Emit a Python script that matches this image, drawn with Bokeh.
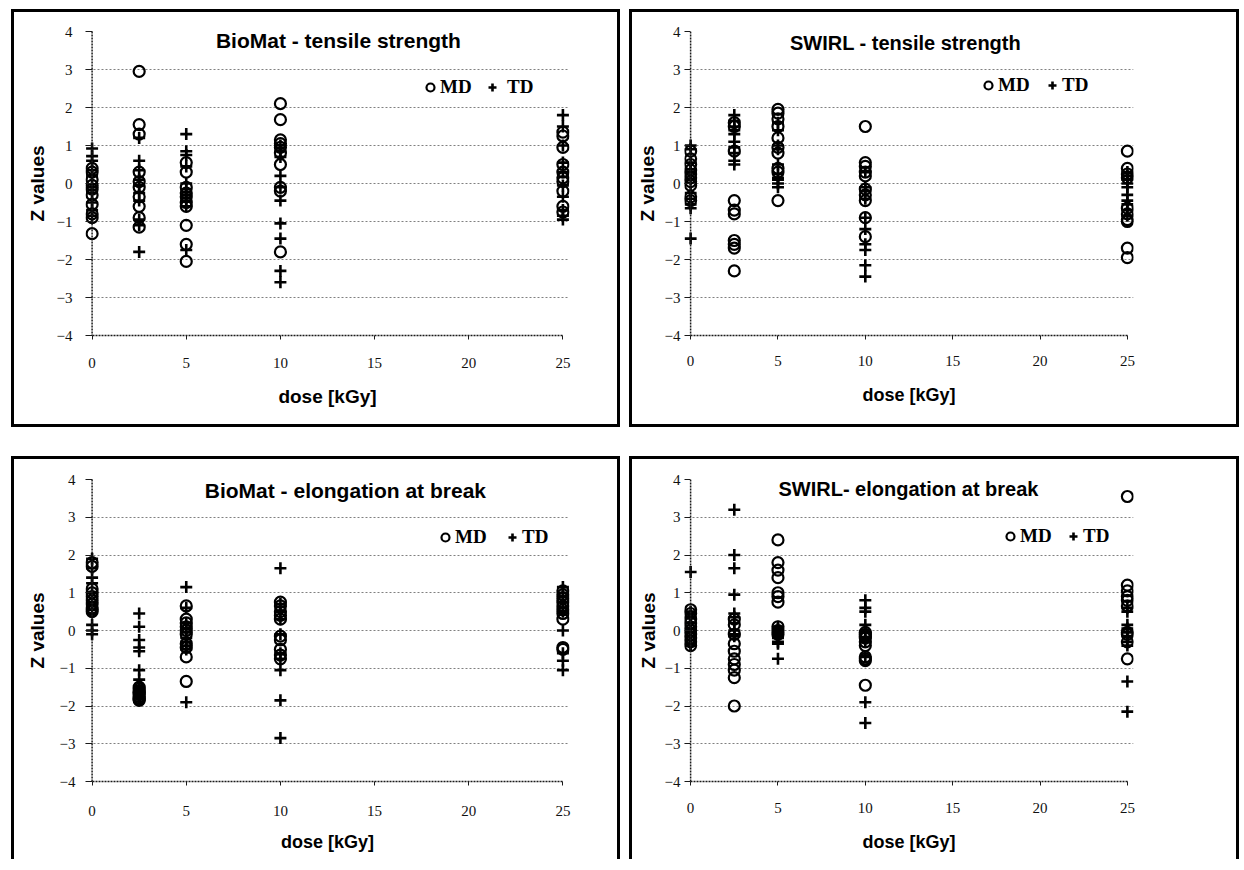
from bokeh.plotting import figure
from bokeh.models import Range1d, Label, Legend, LegendItem, FixedTicker, Span
from bokeh.layouts import column, row
from bokeh.embed import file_html
from bokeh.resources import INLINE

# ---------------- data ----------------
DOSES = [0, 2.5, 5, 10, 25]
X_TICKS = [0, 5, 10, 15, 20, 25]
Y_TICKS = [-4, -3, -2, -1, 0, 1, 2, 3, 4]

TITLES = ["BioMat - tensile strength", "SWIRL - tensile strength",
          "BioMat - elongation at break", "SWIRL- elongation at break"]

# Z values, one inner list per dose (0, 2.5, 5, 10, 25 kGy)
biomat_ts_md = [[0.4, 0.3, 0.1, -0.05, -0.15, -0.3, -0.55, -0.8, -0.9, -1.32],
                [2.95, 1.55, 1.3, 0.3, 0.05, -0.1, -0.35, -0.6, -0.9, -1.15],
                [0.55, 0.3, -0.1, -0.25, -0.35, -0.5, -0.6, -1.1, -1.6, -2.05],
                [2.1, 1.68, 1.15, 1.05, 0.95, 0.8, 0.5, -0.1, -0.2, -1.8],
                [1.35, 1.25, 0.95, 0.5, 0.3, 0.15, 0.05, -0.2, -0.6, -0.75]]
biomat_ts_td = [[0.92, 0.72, 0.6, 0.35, 0.2, -0.1, -0.25, -0.5, -0.7, -0.85],
                [1.2, 0.6, 0.35, 0.1, -0.05, -0.25, -0.45, -0.95, -1.1, -1.8],
                [1.3, 0.85, 0.75, 0.45, 0.0, -0.15, -0.3, -0.45, -0.6, -1.75],
                [1.0, 0.85, 0.7, 0.2, -0.1, -0.45, -1.05, -1.45, -2.3, -2.6],
                [1.8, 1.5, 1.0, 0.55, 0.3, -0.05, -0.35, -0.7, -0.85, -0.95]]

swirl_ts_md = [[0.85, 0.65, 0.5, 0.35, 0.25, 0.15, 0.05, -0.05, -0.35, -0.45],
               [1.6, 1.5, 0.85, -0.45, -0.7, -0.8, -1.5, -1.6, -1.7, -2.3],
               [1.95, 1.85, 1.7, 1.5, 1.2, 0.95, 0.8, 0.4, 0.3, -0.45],
               [1.5, 0.55, 0.45, 0.3, 0.2, -0.15, -0.3, -0.45, -0.9, -1.4],
               [0.85, 0.4, 0.25, 0.15, -0.65, -0.8, -0.95, -1.0, -1.7, -1.95]]
swirl_ts_td = [[1.0, 0.9, 0.55, 0.3, 0.1, -0.25, -0.4, -0.55, -0.65, -1.45],
               [1.8, 1.65, 1.5, 1.4, 1.3, 1.1, 0.95, 0.8, 0.6, 0.5],
               [1.6, 1.4, 1.0, 0.9, 0.5, 0.25, 0.15, 0.1, 0.0, -0.1],
               [0.3, -0.1, -0.2, -0.4, -0.9, -1.2, -1.6, -1.75, -2.15, -2.45],
               [0.3, 0.2, 0.1, 0.0, -0.1, -0.3, -0.45, -0.55, -0.7, -0.85]]

biomat_eb_md = [[1.8, 1.7, 1.1, 1.0, 0.9, 0.8, 0.7, 0.6, 0.55, 0.5],
                [-1.5, -1.55, -1.6, -1.65, -1.65, -1.7, -1.75, -1.8, -1.82, -1.85],
                [0.65, 0.3, 0.2, 0.1, 0.0, -0.1, -0.35, -0.45, -0.7, -1.35],
                [0.75, 0.65, 0.5, 0.4, 0.3, -0.15, -0.25, -0.5, -0.65, -0.75],
                [1.05, 0.95, 0.85, 0.75, 0.65, 0.55, 0.45, 0.3, -0.45, -0.5]]
biomat_eb_td = [[1.9, 1.65, 1.4, 1.25, 1.0, 0.75, 0.55, 0.15, 0.0, -0.1],
                [0.45, 0.1, -0.25, -0.45, -0.55, -1.05, -1.3, -1.5, -1.6, -1.75],
                [1.15, 0.6, 0.2, 0.05, -0.05, -0.2, -0.3, -0.4, -0.5, -1.9],
                [1.65, 0.7, 0.5, 0.3, -0.1, -0.6, -0.75, -1.05, -1.85, -2.85],
                [1.15, 1.0, 0.9, 0.75, 0.6, 0.5, 0.0, -0.6, -0.8, -1.05]]

swirl_eb_md = [[0.55, 0.45, 0.3, 0.2, 0.1, 0.0, -0.1, -0.2, -0.3, -0.4],
               [0.3, 0.15, -0.1, -0.35, -0.55, -0.75, -0.9, -1.05, -1.25, -2.0],
               [2.4, 1.8, 1.6, 1.4, 1.0, 0.9, 0.75, 0.1, 0.0, -0.1],
               [-0.05, -0.1, -0.15, -0.2, -0.3, -0.4, -0.7, -0.75, -0.8, -1.45],
               [3.55, 1.2, 1.05, 0.9, 0.8, 0.65, -0.05, -0.1, -0.3, -0.75]]
swirl_eb_td = [[1.55, 0.5, 0.35, 0.2, 0.05, -0.05, -0.15, -0.25, -0.35, -0.4],
               [3.2, 2.0, 1.65, 0.95, 0.45, 0.35, 0.2, 0.0, -0.1, -0.15],
               [0.1, 0.05, 0.0, -0.05, -0.1, -0.15, -0.2, -0.3, -0.35, -0.75],
               [0.8, 0.6, 0.5, 0.15, -0.05, -0.2, -0.3, -0.7, -1.9, -2.45],
               [0.6, 0.5, 0.15, 0.05, -0.05, -0.15, -0.3, -0.4, -1.35, -2.15]]

SERIES = [(biomat_ts_md, biomat_ts_td), (swirl_ts_md, swirl_ts_td),
          (biomat_eb_md, biomat_eb_td), (swirl_eb_md, swirl_eb_td)]

# ---------------- layout / style per panel ----------------
BW = 3  # panel border width
ROW_TB = [(19, 95), (20, 81)]        # min_border top/bottom per row
COL_LR = [(71, 54), (52, 109)]       # min_border left/right per column
LAYOUT = [
    dict(w=609, h=418, rc=(0, 0), title_xy=(13.08, 3.76), title_fs="21px",
         ylab_so=13, ylab_axso=6, xlab_so=18, xlab_axso=15, xlab_fs="19px",
         md_loc=(335, 237), td_loc=(397, 237), md_so=0, td_so=5, bottom_border=True),
    dict(w=610, h=418, rc=(0, 1), title_xy=(12.3, 3.71), title_fs="20px",
         ylab_so=4, ylab_axso=4, xlab_so=16, xlab_axso=16, xlab_fs="18px",
         md_loc=(294, 239), td_loc=(358, 239), md_so=0, td_so=0, bottom_border=True),
    dict(w=609, h=403, rc=(1, 0), title_xy=(13.45, 3.71), title_fs="21px",
         ylab_so=10, ylab_axso=9, xlab_so=20, xlab_axso=13, xlab_fs="18px",
         md_loc=(350, 233), td_loc=(417, 233), md_so=0, td_so=0, bottom_border=False),
    dict(w=610, h=403, rc=(1, 1), title_xy=(12.47, 3.76), title_fs="20px",
         ylab_so=4, ylab_axso=3, xlab_so=17, xlab_axso=16, xlab_fs="18px",
         md_loc=(316, 234), td_loc=(379, 234), md_so=0, td_so=0, bottom_border=False),
]
X_PAD = 0.35


def flatten(groups):
    xs, ys = [], []
    for d, vals in zip(DOSES, groups):
        xs += [d] * len(vals)
        ys += list(vals)
    return xs, ys


def make_panel(title, md, td, cfg):
    border = "%dpx solid #000" % BW
    styles = {"border-top": border, "border-left": border, "border-right": border}
    if cfg["bottom_border"]:
        styles["border-bottom"] = border
    r_i, c_i = cfg["rc"]
    top, bottom = ROW_TB[r_i]
    left, right = COL_LR[c_i]
    p = figure(width=cfg["w"], height=cfg["h"], output_backend="svg",
               toolbar_location=None,
               x_range=Range1d(-X_PAD, 25 + X_PAD), y_range=Range1d(-4, 4),
               min_border_left=left, min_border_right=right,
               min_border_top=top, min_border_bottom=bottom,
               background_fill_color="white", border_fill_color="white",
               outline_line_color=None, styles=styles)

    frame_w = cfg["w"] - left - right
    pad_px = int(round(X_PAD * frame_w / (25 + 2 * X_PAD)))

    # axes
    p.xaxis.ticker = FixedTicker(ticks=X_TICKS, minor_ticks=[])
    p.yaxis.ticker = FixedTicker(ticks=Y_TICKS, minor_ticks=[])
    p.xaxis.bounds = (0, 25)
    for ax in (p.xaxis[0], p.yaxis[0]):
        ax.axis_line_color = "#1a1a1a"
        ax.axis_line_width = 1.5
        ax.axis_line_dash = "2 1"
        ax.major_tick_line_color = "#1a1a1a"
        ax.minor_tick_line_color = None
        ax.major_label_text_font = "Liberation Serif"
        ax.major_label_text_font_size = "15px"
        ax.major_label_text_color = "#111"
        ax.axis_label_text_font = "Liberation Sans"
        ax.axis_label_text_font_style = "bold"
        ax.axis_label_text_color = "#000"
    p.xaxis.major_tick_in = 0
    p.xaxis.major_tick_out = 4
    # y axis drawn at x = 0 (a span); ticks reach from the frame edge to it
    p.yaxis.axis_line_color = None
    p.yaxis.major_tick_in = pad_px
    p.yaxis.major_tick_out = 0
    p.add_layout(Span(location=0, dimension="height", line_color="#1a1a1a",
                      line_width=1.5, line_dash="2 1"))

    p.xaxis.axis_label = "dose [kGy]"
    p.xaxis.axis_label_text_font_size = cfg["xlab_fs"]
    p.xaxis.major_label_standoff = cfg["xlab_so"]
    p.xaxis.axis_label_standoff = cfg["xlab_axso"]
    p.yaxis.axis_label = "Z values"
    p.yaxis.axis_label_text_font_size = "19px"
    p.yaxis.major_label_standoff = cfg["ylab_so"]
    p.yaxis.axis_label_standoff = cfg["ylab_axso"]

    p.xgrid.visible = False
    p.ygrid.grid_line_color = "#808080"
    p.ygrid.grid_line_dash = "2 2"
    p.ygrid.grid_line_width = 1

    mx, my = flatten(md)
    tx, ty = flatten(td)
    r_md = p.scatter(mx, my, marker="circle", size=11, fill_color=None,
                     line_color="black", line_width=2.2)
    r_td = p.scatter(tx, ty, marker="cross", size=12, line_color="black",
                     line_width=2.6)

    tx_, ty_ = cfg["title_xy"]
    p.add_layout(Label(x=tx_, y=ty_, text=title, text_align="center",
                       text_baseline="middle", text_font="Liberation Sans",
                       text_font_style="bold", text_font_size=cfg["title_fs"],
                       text_color="black"))

    for lab, rend, loc, so in (("MD", r_md, cfg["md_loc"], cfg["md_so"]),
                               ("TD", r_td, cfg["td_loc"], cfg["td_so"])):
        leg = Legend(items=[LegendItem(label=lab, renderers=[rend])],
                     location=loc, orientation="horizontal",
                     border_line_color=None, background_fill_alpha=0,
                     padding=0, margin=0, spacing=0,
                     glyph_width=20, glyph_height=20, label_height=20,
                     label_standoff=so, label_text_font="Liberation Serif",
                     label_text_font_style="bold", label_text_font_size="19px",
                     label_text_color="black")
        p.add_layout(leg)
    return p


panels = [make_panel(t, s[0], s[1], c) for t, s, c in zip(TITLES, SERIES, LAYOUT)]

layout = column(row(panels[0], panels[1], spacing=9),
                row(panels[2], panels[3], spacing=9),
                spacing=29, margin=(9, 0, 0, 11))

open("out.html", "w").write(file_html(layout, INLINE))
